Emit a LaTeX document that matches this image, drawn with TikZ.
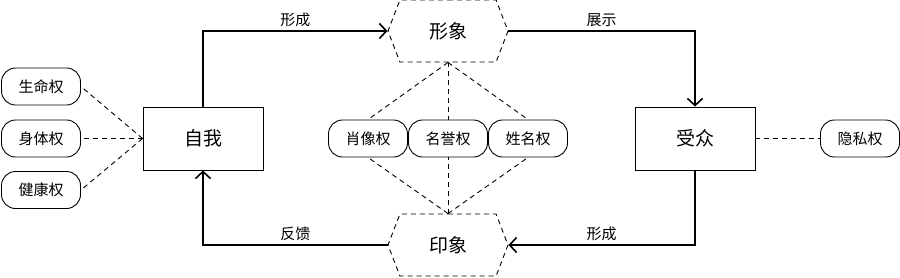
\documentclass[tikz,border=0pt]{standalone}
\usepackage{fontspec}
\setmainfont{Noto Sans CJK SC}
\usepackage{tikz}
\usetikzlibrary{shapes.symbols,arrows.meta}

\tikzset{
  mainbox/.style={draw,line width=0.9pt,minimum width=120pt,minimum height=63pt,
    font=\fontsize{19}{21}\selectfont},
  rightbox/.style={draw,line width=0.9pt,rounded corners=14pt,minimum width=79pt,
    minimum height=37pt,inner sep=0pt,font=\fontsize{15}{17}\selectfont},
  hexbox/.style={draw,dash pattern=on 5pt off 4pt,line width=0.9pt,signal,
    signal to=west and east,signal pointer angle=138,minimum width=120pt,
    minimum height=62pt,inner sep=0pt,font=\fontsize{19}{21}\selectfont},
  flow/.style={line width=1.6pt,-{Straight Barb[length=7pt,width=15pt]}},
  link/.style={dash pattern=on 5pt off 4pt,line width=0.9pt},
  edgelabel/.style={font=\fontsize{15}{17}\selectfont},
}

\begin{document}
\begin{tikzpicture}[x=1pt,y=-1pt]
  \useasboundingbox (0,0) rectangle (900,277);
  % main boxes
  \node[mainbox] (ziwo) at (203,138.5) {自我};
  \node[mainbox] (shouzhong) at (695,138.5) {受众};
  \node[hexbox] (xingxiang) at (448,31) {形象};
  \node[hexbox] (yinxiang) at (448,245) {印象};
  % rights
  \node[rightbox] (shengming) at (41,86.5) {生命权};
  \node[rightbox] (shenti) at (41,138.5) {身体权};
  \node[rightbox] (jiankang) at (41,190) {健康权};
  \node[rightbox] (xiaoxiang) at (368,138.5) {肖像权};
  \node[rightbox] (mingyu) at (448,138.5) {名誉权};
  \node[rightbox] (xingming) at (528,138.5) {姓名权};
  \node[rightbox] (yinsi) at (860,138.5) {隐私权};
  % flow
  \draw[flow] (ziwo.north) |- (xingxiang.west)
    node[edgelabel,pos=0.75,above] {形成};
  \draw[flow] (xingxiang.east) -| (shouzhong.north)
    node[edgelabel,pos=0.25,above] {展示};
  \draw[flow] (shouzhong.south) |- (yinxiang.east)
    node[edgelabel,pos=0.75,above] {形成};
  \draw[flow] (yinxiang.west) -| (ziwo.south)
    node[edgelabel,pos=0.25,above] {反馈};
  % dashed links
  \foreach \r in {shengming,shenti,jiankang}
    \draw[link] (ziwo.west) -- (\r.east);
  \foreach \r in {xiaoxiang,mingyu,xingming} {
    \draw[link] (xingxiang.south) -- (\r.north);
    \draw[link] (yinxiang.north) -- (\r.south);
  }
  \draw[link] (shouzhong.east) -- (yinsi.west);
\end{tikzpicture}
\end{document}
